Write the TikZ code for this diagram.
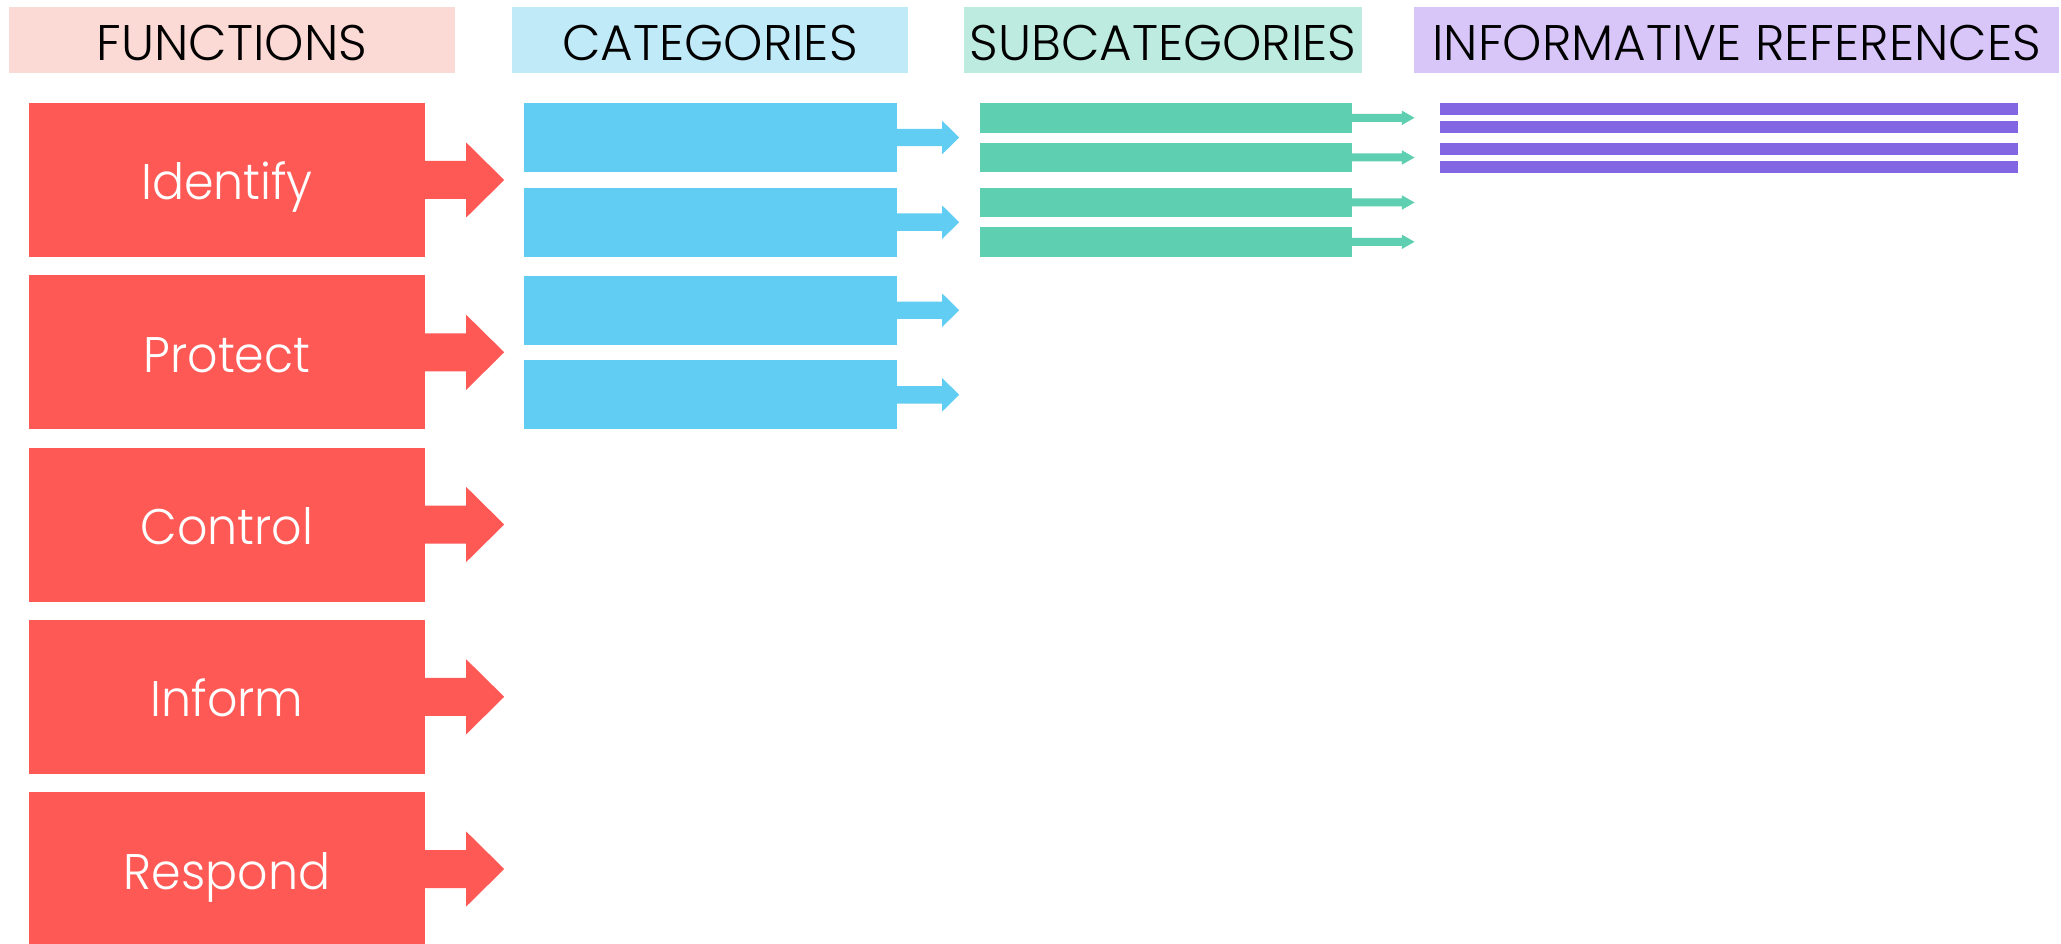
\documentclass[tikz,border=0pt]{standalone}
\usepackage{fontspec}
\IfFontExistsTF{Poppins Light}{\setmainfont{Poppins Light}\newfontfamily\bodyfont{Poppins Light}[FakeStretch=0.95]}{\setmainfont{Poppins}\newfontfamily\bodyfont{Poppins}[FakeStretch=0.95]}
\definecolor{redc}{HTML}{FF5955}
\definecolor{bluec}{HTML}{61CDF3}
\definecolor{greenc}{HTML}{5ECFB1}
\definecolor{purplec}{HTML}{8366E2}
\definecolor{hpink}{HTML}{FBD9D4}
\definecolor{hblue}{HTML}{C1EAF8}
\definecolor{hgreen}{HTML}{BDEBDF}
\definecolor{hpurple}{HTML}{D8C6F8}
\newcommand\blockarrow[6]{%
  \fill[#2] (#1.east) ++(0,-#4) -- ++(#3,0) -- ++(0,{-(#6-#4)}) -- ++(#5,#6)
    -- ++(-#5,#6) -- ++(0,{-(#6-#4)}) -- ++(-#3,0) -- cycle;}
\tikzset{
  hdr/.style={fill=#1, minimum height=66pt, inner sep=0pt, text=black,
    text height=42pt, text depth=0pt, font=\fontsize{50}{60}\selectfont},
  fnbox/.style={fill=redc, minimum width=396pt, minimum height=154pt, inner sep=0pt,
    text=white, text height=40pt, text depth=0pt, font=\bodyfont\fontsize{50}{60}\selectfont},
  catbox/.style={fill=bluec, minimum width=373pt, minimum height=69pt, inner sep=0pt},
  subbox/.style={fill=greenc, minimum width=372pt, minimum height=29.5pt, inner sep=0pt},
  refbar/.style={fill=purplec, minimum width=578pt, minimum height=12pt, inner sep=0pt}
}
\begin{document}
\begin{tikzpicture}[x=1pt,y=-1pt]
\useasboundingbox[fill=white] (0,0) rectangle (2061,944);
% headers
\node[hdr=hpink, minimum width=446pt] (h1) at (232,40) {FUNCTIONS};
\node[hdr=hblue, minimum width=396pt] (h2) at (710,40) {CATEGORIES};
\node[hdr=hgreen, minimum width=398pt] (h3) at (1163,40) {SUBCATEGORIES};
\node[hdr=hpurple, minimum width=645pt] (h4) at (1736.5,40) {INFORMATIVE REFERENCES};
% functions
\node[fnbox] (f1) at (227,180) {Identify};
\node[fnbox] (f2) at (227,352.3) {Protect};
\node[fnbox] (f3) at (227,524.5) {Control};
\node[fnbox] (f4) at (227,696.8) {Inform};
\node[fnbox] (f5) at (227,869) {Respond};
\foreach \n in {f1,f2,f3,f4,f5}{\blockarrow{\n}{redc}{41}{19}{38}{37.5}}
% categories
\node[catbox] (c1) at (710.5,137.5) {};
\node[catbox] (c2) at (710.5,222.2) {};
\node[catbox] (c3) at (710.5,310.2) {};
\node[catbox] (c4) at (710.5,394.8) {};
\foreach \n in {c1,c2,c3,c4}{\blockarrow{\n}{bluec}{45}{8.7}{17}{16.7}}
% subcategories
\node[subbox] (s1) at (1166,117.8) {};
\node[subbox] (s2) at (1166,157.5) {};
\node[subbox] (s3) at (1166,202.5) {};
\node[subbox] (s4) at (1166,241.8) {};
\foreach \n in {s1,s2,s3,s4}{\blockarrow{\n}{greenc}{49.7}{4}{12.6}{7.2}}
% informative references
\node[refbar] (r1) at (1729,109.3) {};
\node[refbar] (r2) at (1729,127) {};
\node[refbar] (r3) at (1729,149.3) {};
\node[refbar] (r4) at (1729,167) {};
\end{tikzpicture}
\end{document}
